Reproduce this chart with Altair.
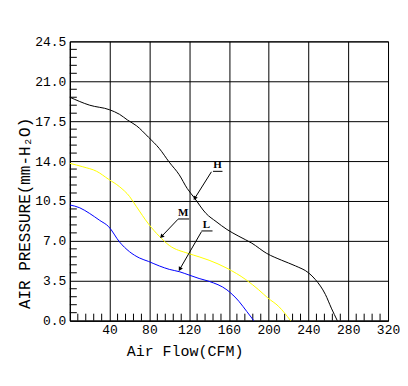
import altair as alt
import pandas as pd

# Fan curves (CFM, mm-H2O)
H_x = [0, 20, 40, 50, 58, 67, 79, 90, 100, 110, 118, 125, 137, 147, 158, 170, 183, 198, 213, 227, 240, 247, 257, 263, 269]
H_y = [19.6, 18.9, 18.5, 18.1, 17.6, 17.1, 16.1, 15.1, 13.9, 12.8, 11.6, 10.8, 9.4, 8.7, 8.0, 7.4, 6.8, 5.9, 5.3, 4.8, 4.2, 3.6, 2.3, 1.1, 0.0]
M_x = [0, 13, 27, 39, 50, 60, 67, 79, 90, 100, 119, 130, 140, 158, 177, 190, 199, 210, 222]
M_y = [13.8, 13.5, 13.1, 12.4, 11.75, 10.9, 10.0, 8.5, 7.4, 6.6, 5.9, 5.6, 5.3, 4.6, 3.6, 2.7, 2.0, 1.25, 0.0]
L_x = [0, 10, 20, 30, 39, 50, 60, 70, 79, 90, 100, 110, 120, 130, 140, 158, 170, 178, 185]
L_y = [10.15, 9.9, 9.4, 8.8, 8.25, 6.9, 6.05, 5.5, 5.2, 4.8, 4.5, 4.3, 4.0, 3.7, 3.45, 2.7, 1.7, 0.8, 0.0]

series_names = ["H", "M", "L"]
series_colors = ["#000000", "#ffff00", "#0000ff"]

x_ticks = [0, 40, 80, 120, 160, 200, 240, 280, 320]
y_ticks = [0.0, 3.5, 7.0, 10.5, 14.0, 17.5, 21.0, 24.5]
x_minor = [v for v in range(8, 320, 8) if v % 40 != 0]
y_minor = [round(i * 0.7, 2) for i in range(1, 35) if i % 5 != 0]

# Callout labels: text position, underline span, leader line start/end
ann_label = ["H", "M", "L"]
ann_tx = [148.4, 113.9, 137.4]
ann_ux1 = [144.0, 108.9, 132.4]
ann_ux2 = [153.5, 120.0, 143.5]
ann_uy = [13.1, 8.92, 7.87]
ann_x1 = [142.4, 108.8, 132.4]
ann_y1 = [13.06, 8.9, 7.81]
ann_x2 = [125.6, 92.2, 110.6]
ann_y2 = [10.73, 7.38, 4.52]
ann_angle = [212, 224, 210]

rows = []
for name, xs, ys in zip(series_names, [H_x, M_x, L_x], [H_y, M_y, L_y]):
    for i, (a, b) in enumerate(zip(xs, ys)):
        rows.append({"series": name, "cfm": a, "p": b, "i": i})
df = pd.DataFrame(rows)

ann = pd.DataFrame({
    "label": ann_label, "tx": ann_tx,
    "ux1": ann_ux1, "ux2": ann_ux2, "uy": ann_uy,
    "x1": ann_x1, "y1": ann_y1, "x2": ann_x2, "y2": ann_y2,
    "angle": ann_angle,
})

W, H = 319, 280
FONT = "Liberation Mono"

xscale = alt.Scale(domain=[0, 320], nice=False, zero=False)
yscale = alt.Scale(domain=[0, 24.5], nice=False, zero=False)

xaxis = alt.Axis(values=x_ticks, grid=True, gridColor="#000", gridOpacity=1, gridWidth=1,
                 ticks=False, domainColor="#000", labelColor="#000", labelFont=FONT, labelFontSize=13,
                 labelPadding=3, labelOverlap=False, labelFlush=False,
                 labelExpr="datum.value == 0 ? '' : datum.label",
                 title="Air Flow(CFM)", titleFont=FONT, titleFontSize=15, titleFontWeight="normal",
                 titleColor="#000", titleX=115, titleY=30, titleAlign="center", titleBaseline="middle")
yaxis = alt.Axis(values=y_ticks, format=".1f", grid=True, gridColor="#000", gridOpacity=1, gridWidth=1,
                 ticks=False, domainColor="#000", labelColor="#000", labelFont=FONT, labelFontSize=13,
                 labelPadding=4, labelOverlap=False, labelFlush=False,
                 title="AIR PRESSURE(mm-H₂O)", titleFont=FONT, titleFontSize=16, titleFontWeight="normal",
                 titleColor="#000", titleAngle=270, titleX=-45, titleY=172, titleAlign="center",
                 titleBaseline="middle")


def X(field):
    return alt.X(field, scale=xscale, axis=xaxis)


def Y(field):
    return alt.Y(field, scale=yscale, axis=yaxis)


xminor_layer = alt.Chart(pd.DataFrame({"cfm": x_minor})).mark_rule(color="#000", strokeWidth=1).encode(
    x=X("cfm:Q"), y=alt.value(H), y2=alt.value(H - 7)
)
yminor_layer = alt.Chart(pd.DataFrame({"p": y_minor})).mark_rule(color="#000", strokeWidth=1).encode(
    y=Y("p:Q"), x=alt.value(0), x2=alt.value(7)
)

lines = alt.Chart(df).mark_line(strokeWidth=1, interpolate="monotone").encode(
    x=X("cfm:Q"),
    y=Y("p:Q"),
    color=alt.Color("series:N", scale=alt.Scale(domain=series_names, range=series_colors), legend=None),
    order="i:Q",
)

leaders = alt.Chart(ann).mark_rule(color="#000", strokeWidth=1).encode(
    x=X("x1:Q"), y=Y("y1:Q"), x2="x2:Q", y2="y2:Q"
)
heads = alt.Chart(ann).mark_point(shape="triangle-up", filled=True, color="#000", size=22, opacity=1).encode(
    x=X("x2:Q"), y=Y("y2:Q"), angle=alt.Angle("angle:Q", scale=None)
)
underl = alt.Chart(ann).mark_rule(color="#000", strokeWidth=1).encode(
    x=X("ux1:Q"), x2="ux2:Q", y=Y("uy:Q")
)
texts = alt.Chart(ann).mark_text(font="Liberation Serif", fontSize=11, fontWeight="bold", color="#000",
                                 baseline="bottom", dy=-1).encode(
    x=X("tx:Q"), y=Y("uy:Q"), text="label:N"
)

chart = alt.layer(xminor_layer, yminor_layer, lines, leaders, heads, underl, texts).properties(
    width=W, height=H,
    autosize=alt.AutoSizeParams(type="none"),
    padding={"left": 62, "top": 33, "right": 12, "bottom": 50},
    background="#ffffff",
).configure_view(stroke="#000", strokeWidth=1)

chart.save("out.html", embed_options={"renderer": "svg", "actions": False})
